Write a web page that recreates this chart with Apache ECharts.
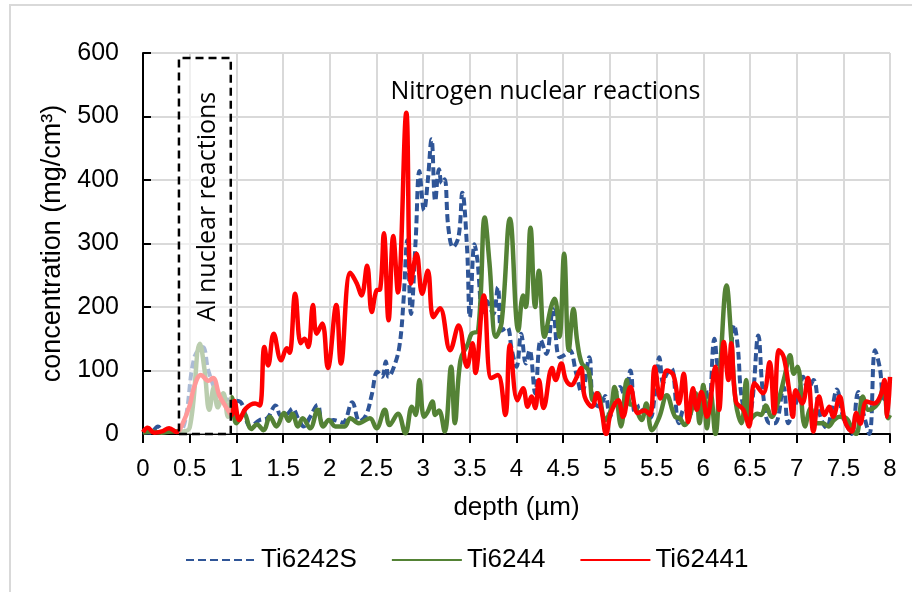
<!DOCTYPE html>
<html>
<head>
<meta charset="utf-8">
<script src="https://cdn.jsdelivr.net/npm/echarts@6/dist/echarts.min.js"></script>
<style>
  html, body { margin: 0; padding: 0; background: #fff; }
  #chart-id { width: 912px; height: 592px; }
</style>
</head>
<body>
<div id="chart-id"></div>
<script>
// data: [depth (µm), concentration (mg/cm3)]
const ti6242S = [[0,3],[0.08,2],[0.16,12],[0.22,3],[0.3,6],[0.38,3],[0.45,20],[0.55,121],[0.64,137],[0.7,100],[0.8,62],[0.87,56],[0.95,53],[1.04,51],[1.15,12],[1.25,22],[1.33,25],[1.42,45],[1.48,28],[1.55,32],[1.6,40],[1.67,22],[1.72,12],[1.79,27],[1.87,46],[1.93,15],[2.04,22],[2.14,18],[2.24,50],[2.32,20],[2.39,30],[2.45,62],[2.51,98],[2.56,90],[2.6,114],[2.63,90],[2.7,111],[2.75,142],[2.79,210],[2.83,305],[2.87,189],[2.92,305],[2.96,414],[3.01,352],[3.05,399],[3.09,464],[3.13,367],[3.17,417],[3.2,395],[3.23,401],[3.27,325],[3.32,294],[3.38,311],[3.42,380],[3.47,294],[3.5,184],[3.55,299],[3.58,275],[3.64,189],[3.68,210],[3.75,189],[3.8,231],[3.84,163],[3.9,168],[3.95,132],[4.0,106],[4.05,158],[4.1,111],[4.14,132],[4.2,64],[4.26,148],[4.32,126],[4.39,197],[4.46,121],[4.52,125],[4.57,132],[4.64,95],[4.7,64],[4.78,121],[4.82,53],[4.89,43],[4.95,60],[5.0,27],[5.05,59],[5.11,74],[5.16,59],[5.22,100],[5.27,32],[5.32,45],[5.38,30],[5.43,25],[5.48,60],[5.53,121],[5.57,80],[5.61,95],[5.66,103],[5.74,17],[5.8,40],[5.86,32],[5.92,60],[5.97,35],[6.02,74],[6.06,40],[6.12,150],[6.17,100],[6.22,120],[6.27,95],[6.33,172],[6.37,137],[6.41,59],[6.47,30],[6.52,45],[6.59,155],[6.64,64],[6.71,17],[6.77,17],[6.86,74],[6.91,17],[6.97,40],[7.02,60],[7.07,90],[7.12,70],[7.18,85],[7.25,30],[7.32,10],[7.38,40],[7.43,70],[7.5,25],[7.55,10],[7.59,0],[7.66,66],[7.72,30],[7.78,0],[7.84,132],[7.89,105],[7.94,55],[8.0,60]]
const ti6244 = [[0,2],[0.1,4],[0.2,2],[0.3,4],[0.41,4],[0.5,10],[0.61,142],[0.66,100],[0.71,38],[0.76,74],[0.8,42],[0.86,64],[0.91,27],[0.95,58],[1.0,17],[1.08,32],[1.16,8],[1.22,15],[1.29,6],[1.36,27],[1.43,12],[1.51,33],[1.56,21],[1.6,32],[1.66,12],[1.71,25],[1.79,9],[1.87,38],[1.93,12],[1.99,22],[2.06,12],[2.16,12],[2.22,25],[2.31,17],[2.43,25],[2.5,9],[2.59,38],[2.64,14],[2.73,32],[2.81,1],[2.88,43],[2.92,30],[2.96,85],[3.01,27],[3.05,35],[3.1,51],[3.13,30],[3.17,37],[3.23,4],[3.3,106],[3.34,17],[3.4,116],[3.48,142],[3.52,158],[3.59,163],[3.66,341],[3.71,270],[3.78,153],[3.84,175],[3.93,339],[4.02,163],[4.07,218],[4.1,200],[4.15,325],[4.2,200],[4.24,257],[4.3,153],[4.37,200],[4.41,213],[4.46,153],[4.51,284],[4.56,132],[4.61,197],[4.65,146],[4.7,111],[4.77,100],[4.82,53],[4.87,64],[4.95,22],[5.01,38],[5.05,74],[5.12,12],[5.18,85],[5.21,48],[5.26,45],[5.34,22],[5.39,48],[5.45,6],[5.53,27],[5.61,61],[5.7,27],[5.75,25],[5.8,14],[5.86,30],[5.92,64],[5.96,17],[6.0,77],[6.04,9],[6.08,64],[6.13,0],[6.18,100],[6.25,234],[6.3,150],[6.35,48],[6.41,17],[6.46,85],[6.5,22],[6.58,32],[6.62,30],[6.67,45],[6.73,27],[6.8,50],[6.87,90],[6.93,124],[6.97,95],[7.01,106],[7.09,12],[7.15,40],[7.21,17],[7.28,17],[7.34,12],[7.4,22],[7.46,27],[7.53,25],[7.6,6],[7.64,0],[7.71,59],[7.77,38],[7.87,48],[7.93,74],[7.98,25],[8.0,30]]
const ti62441 = [[0,3],[0.05,10],[0.12,2],[0.2,4],[0.28,9],[0.36,3],[0.42,15],[0.5,45],[0.55,75],[0.62,93],[0.7,84],[0.75,88],[0.82,60],[0.9,40],[0.95,30],[0.98,52],[1.03,22],[1.1,40],[1.2,48],[1.25,45],[1.3,137],[1.34,108],[1.4,158],[1.48,116],[1.54,135],[1.57,128],[1.63,221],[1.69,143],[1.73,150],[1.77,137],[1.82,203],[1.86,158],[1.92,174],[1.98,104],[2.07,203],[2.12,111],[2.22,254],[2.29,237],[2.34,218],[2.4,265],[2.45,192],[2.5,226],[2.54,228],[2.58,316],[2.63,179],[2.68,312],[2.73,223],[2.82,506],[2.87,237],[2.93,284],[2.99,221],[3.05,257],[3.11,184],[3.18,198],[3.29,132],[3.38,171],[3.47,106],[3.53,143],[3.56,96],[3.65,218],[3.73,88],[3.8,93],[3.88,30],[3.93,140],[4.01,53],[4.07,72],[4.12,43],[4.16,59],[4.2,41],[4.24,85],[4.29,41],[4.38,104],[4.42,85],[4.48,111],[4.53,85],[4.59,77],[4.63,85],[4.69,104],[4.73,59],[4.81,43],[4.86,64],[4.91,38],[4.96,0],[5.01,33],[5.09,53],[5.14,27],[5.22,74],[5.3,33],[5.37,37],[5.43,30],[5.48,106],[5.54,56],[5.61,100],[5.68,93],[5.74,48],[5.79,95],[5.84,19],[5.89,72],[5.93,38],[5.98,66],[6.04,27],[6.13,106],[6.17,38],[6.22,145],[6.27,85],[6.3,143],[6.35,51],[6.43,38],[6.49,12],[6.55,80],[6.64,64],[6.71,113],[6.76,33],[6.81,132],[6.86,122],[6.92,69],[6.96,27],[6.99,69],[7.06,48],[7.12,88],[7.18,4],[7.24,59],[7.3,30],[7.35,43],[7.39,27],[7.46,59],[7.52,19],[7.59,4],[7.64,33],[7.68,16],[7.75,51],[7.83,48],[7.9,61],[7.94,85],[7.97,27],[8.0,90]]
const seriesNames = ['Ti6242S', 'Ti6244', 'Ti62441']

// annotation regions / labels (data coords)
const alBox = [[0.385, 0], [0.94, 592]]
const alLabel = [0.7, 358]
const nLabel = [4.31, 538]

const font = "'Liberation Sans', Arial, sans-serif"
const annot = "'Open Sans', sans-serif"

let chart
let option = {}

function getOption(){
  option = {
    animation: false,
    graphic: [{
      type: 'rect',
      shape: {x: 10, y: 5, width: 1000, height: 700},
      style: {fill: 'none', stroke: '#d9d9d9', lineWidth: 2},
      silent: true
    }],
    grid: {left: 143, right: 22, top: 53, bottom: 158},
    legend: {
      data: seriesNames,
      left: 180,
      top: 542,
      itemWidth: 70,
      itemHeight: 14,
      itemGap: 34,
      itemStyle: {opacity: 0},
      textStyle: {fontFamily: font, fontSize: 26, color: '#000'}
    },
    xAxis: {
      type: 'value',
      min: 0, max: 8, interval: 0.5,
      name: 'depth (µm)',
      nameLocation: 'middle',
      nameGap: 61,
      nameTextStyle: {fontFamily: font, fontSize: 26, color: '#000'},
      axisLine: {lineStyle: {color: '#000', width: 2}},
      axisTick: {length: 9, lineStyle: {color: '#000', width: 2}},
      axisLabel: {margin: 23, fontFamily: font, fontSize: 24, color: '#000'},
      splitLine: {lineStyle: {color: '#d9d9d9', width: 2}}
    },
    yAxis: {
      type: 'value',
      min: 0, max: 600, interval: 100,
      name: 'concentration (mg/cm³)',
      nameLocation: 'middle',
      nameGap: 75,
      nameTextStyle: {fontFamily: font, fontSize: 27, color: '#000'},
      axisLine: {show: true, lineStyle: {color: '#000', width: 2}},
      axisTick: {show: true, inside: true, length: 8, lineStyle: {color: '#000', width: 2}},
      axisLabel: {margin: 24, fontFamily: font, fontSize: 25, color: '#000'},
      splitLine: {lineStyle: {color: '#d9d9d9', width: 2}}
    },
    series: [
      {
        name: seriesNames[0], type: 'line', data: ti6242S,
        symbol: 'none', smooth: 0.4, z: 2,
        lineStyle: {color: '#2f5597', width: 4, type: [8, 4]},
        itemStyle: {color: '#2f5597'}
      },
      {
        name: seriesNames[1], type: 'line', data: ti6244,
        symbol: 'none', smooth: 0.4, z: 3,
        lineStyle: {color: '#548235', width: 4.5},
        itemStyle: {color: '#548235'}
      },
      {
        name: seriesNames[2], type: 'line', data: ti62441,
        symbol: 'none', smooth: 0.4, z: 4,
        lineStyle: {color: '#ff0000', width: 4.5},
        itemStyle: {color: '#ff0000'}
      },
      // annotation layer
      {
        type: 'line', data: [], z: 10, silent: true,
        markArea: {
          z: 8,
          silent: true,
          itemStyle: {color: 'rgba(255,255,255,0.6)', borderColor: '#000', borderWidth: 2.5, borderType: [8, 5]},
          data: [[{xAxis: alBox[0][0], yAxis: alBox[0][1]}, {xAxis: alBox[1][0], yAxis: alBox[1][1]}]]
        },
        markPoint: {
          z: 9,
          silent: true,
          symbol: 'rect',
          symbolSize: 1,
          itemStyle: {color: 'rgba(0,0,0,0)'},
          label: {show: true, position: 'inside', color: '#000', fontFamily: annot, fontSize: 25},
          data: [
            {coord: nLabel, label: {formatter: 'Nitrogen nuclear reactions'}},
            {coord: alLabel, label: {formatter: 'Al nuclear reactions', rotate: 90}}
          ]
        }
      }
    ]
  }
}

function initChart(){
  let dom = document.getElementById('chart-id')
  chart = echarts.init(dom)
  getOption()
  chart.setOption(option)
}

initChart()
</script>
</body>
</html>
